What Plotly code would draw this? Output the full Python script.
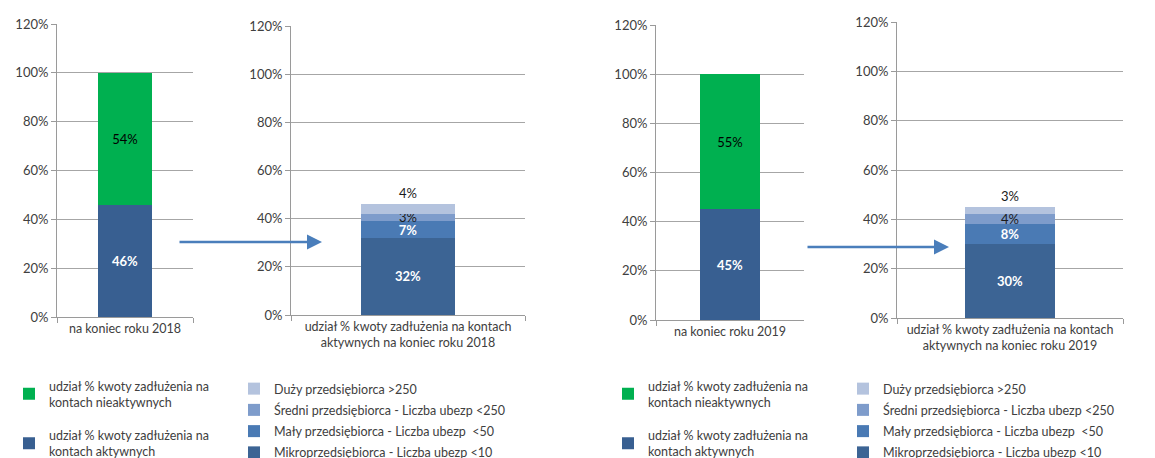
import plotly.graph_objects as go

# ---- data ----
years = ["2018", "2019"]
cat_total = ["na koniec roku 2018", "na koniec roku 2019"]
cat_active = ["udział % kwoty zadłużenia na kontach<br>aktywnych na koniec roku 2018",
              "udział % kwoty zadłużenia na kontach<br>aktywnych na koniec roku 2019"]
active_share = [46, 45]
inactive_share = [54, 55]
micro = [32, 30]
small = [7, 8]
medium = [3, 4]
large = [4, 3]

name_active = "udział % kwoty zadłużenia na<br>kontach aktywnych"
name_inactive = "udział % kwoty zadłużenia na<br>kontach nieaktywnych"
name_micro = "Mikroprzedsiębiorca - Liczba ubezp <10"
name_small = "Mały przedsiębiorca - Liczba ubezp  <50"
name_medium = "Średni przedsiębiorca - Liczba ubezp <250"
name_large = "Duży przedsiębiorca >250"

C_GREEN = "#00B050"
C_ACTIVE = "#385F91"
C_MICRO = "#3C6494"
C_SMALL = "#4A7AB4"
C_MEDIUM = "#7E9CCB"
C_LARGE = "#B4C3DE"

FONT = "Lato"
W, H = 1155, 458

def px_x(a, b):
    return [a / W, b / W]

def px_y(bottom, top):
    return [1 - bottom / H, 1 - top / H]

# panel geometry (pixels)
panels = [
    dict(x=px_x(57, 193), y=px_y(317, 24)),
    dict(x=px_x(291, 525), y=px_y(315, 26)),
    dict(x=px_x(656, 804), y=px_y(320, 25)),
    dict(x=px_x(897, 1123), y=px_y(318, 22)),
]

fig = go.Figure()

def bar(x, y, name, color, xa, ya, legend, rank, tcolor, bold, pos="inside"):
    tpl = "<b>%{y:.0f}%</b>" if bold else "%{y:.0f}%"
    fig.add_trace(go.Bar(
        x=[x], y=[y], name=name, marker=dict(color=color, line=dict(width=0)),
        xaxis=xa, yaxis=ya, legend=legend, legendgroup=name + legend, legendrank=rank,
        texttemplate=tpl, textposition=pos, constraintext="none",
        insidetextanchor="middle",
        textfont=dict(color=tcolor, size=13, family=FONT),
        cliponaxis=False, hoverinfo="skip",
    ))

for i in range(2):
    xa_t, ya_t = f"x{2*i+1}", f"y{2*i+1}"
    xa_a, ya_a = f"x{2*i+2}", f"y{2*i+2}"
    lg_t = "legend" if i == 0 else "legend3"
    lg_a = "legend2" if i == 0 else "legend4"
    bar(cat_total[i], active_share[i], name_active, C_ACTIVE, xa_t, ya_t, lg_t, 2, "white", True)
    bar(cat_total[i], inactive_share[i], name_inactive, C_GREEN, xa_t, ya_t, lg_t, 1, "black", False)
    bar(cat_active[i], micro[i], name_micro, C_MICRO, xa_a, ya_a, lg_a, 4, "white", True)
    bar(cat_active[i], small[i], name_small, C_SMALL, xa_a, ya_a, lg_a, 3, "white", True)
    bar(cat_active[i], medium[i], name_medium, C_MEDIUM, xa_a, ya_a, lg_a, 2, "#1a1a1a", False)
    bar(cat_active[i], large[i], name_large, C_LARGE, xa_a, ya_a, lg_a, 1, "#1a1a1a", False, pos="outside")

layout = dict(
    width=W, height=H, margin=dict(l=0, r=0, t=0, b=0, autoexpand=False),
    paper_bgcolor="white", plot_bgcolor="white",
    barmode="stack", bargap=0.6,
    font=dict(family=FONT, size=12, color="#404040"),
)

for k, p in enumerate(panels, start=1):
    sfx = "" if k == 1 else str(k)
    layout["xaxis" + sfx] = dict(
        domain=p["x"], anchor="y" + sfx, type="category", automargin=False,
        showline=True, linecolor="#9a9a9a", linewidth=1,
        ticks="outside", tickson="boundaries", ticklen=5, tickcolor="#9a9a9a",
        showgrid=False, tickfont=dict(size=12.5, color="#404040", family=FONT),
        fixedrange=True,
    )
    layout["yaxis" + sfx] = dict(
        domain=p["y"], anchor="x" + sfx, range=[0, 120], dtick=20, automargin=False,
        ticksuffix="%", showline=True, linecolor="#9a9a9a", linewidth=1,
        ticks="outside", ticklen=5, tickcolor="#9a9a9a",
        showgrid=True, gridcolor="#a6a6a6", gridwidth=1, zeroline=False,
        tickfont=dict(size=13, color="#404040", family=FONT),
        fixedrange=True,
    )

leg_common = dict(bgcolor="rgba(0,0,0,0)", font=dict(size=12.5, color="#404040", family=FONT),
                  xanchor="left", yanchor="top", traceorder="grouped", itemwidth=30)
layout["legend"] = dict(leg_common, x=(49 - 40) / W, y=1 - 371 / H, tracegroupgap=14)
layout["legend2"] = dict(leg_common, x=(274 - 40) / W, y=1 - 374 / H, tracegroupgap=2)
layout["legend3"] = dict(leg_common, x=(648 - 40) / W, y=1 - 371 / H, tracegroupgap=14)
layout["legend4"] = dict(leg_common, x=(883 - 40) / W, y=1 - 374 / H, tracegroupgap=2)

# arrows between panels
arrows = [((178, 242), (322, 242)), ((806, 247), (949, 247))]
anns = []
for (x0, y0), (x1, y1) in arrows:
    anns.append(dict(
        x=x1 / W, y=1 - y1 / H, xref="paper", yref="paper",
        ax=-(x1 - x0), ay=0, axref="pixel", ayref="pixel",
        showarrow=True, arrowhead=2, arrowsize=1.2, arrowwidth=2.5,
        arrowcolor="#4A7EBB", text="",
    ))
layout["annotations"] = anns

fig.update_layout(**layout)
fig.write_html("out.html", config={"displayModeBar": False},
               post_script="document.body.style.margin='0';document.body.style.overflow='hidden';")
